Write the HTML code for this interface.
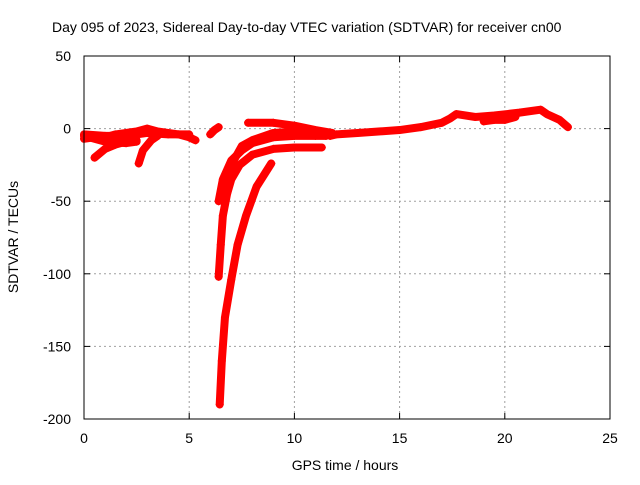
<!DOCTYPE html>
<html><head><meta charset="utf-8"><style>
body{margin:0;background:#fff;font-family:"Liberation Sans",sans-serif}
svg text{font-family:"Liberation Sans",sans-serif;font-size:14px;fill:#000}
</style></head><body>
<svg width="640" height="480">
<text x="52" y="32">Day 095 of 2023, Sidereal Day-to-day VTEC variation (SDTVAR) for receiver cn00</text>
<g id="grid"></g>
<g id="series"></g>
<rect x="84" y="56" width="526" height="363" fill="none" stroke="#000" stroke-width="1"/>
<g id="axes"></g>
<text x="345" y="470" text-anchor="middle">GPS time / hours</text>
<text transform="translate(18,237) rotate(-90)" text-anchor="middle">SDTVAR / TECUs</text>
</svg>
<script>
const xTicks=[0,5,10,15,20,25];
const yTicks=[50,0,-50,-100,-150,-200];
const seriesNames=['early-band','early-band-2','early-low','early-arc1','early-arc2','pre-dip','dip-deep','dip-mid','dip-a','dip-b','top-band','late-band','late-low'];
const seriesHours=[
[0,0.5,1,1.5,2,2.5,3,3.5,4,4.5,5,5.3],
[0,1,2,3,4,5],
[0,1,2,2.5],
[0.5,1,1.5,2,2.5],
[2.6,2.8,3.2,3.5],
[6.0,6.2,6.4],
[6.45,6.55,6.7,7.0,7.3,7.7,8.2,8.9],
[6.4,6.5,6.6,6.8,7.0,7.4,8,9,10,11.3],
[6.4,6.6,7,7.5,8,9,10,11,11.5],
[6.6,7,7.5,8,9,10,11,11.8],
[7.8,9,10,11,11.8],
[11.7,12,13,14,15,16,17,17.4,17.7,18.6,19.5,20.7,21.7,22,22.6,23],
[19,19.5,20,20.5]
];
const seriesValues=[
[-7,-6,-6,-4,-3,-2,0,-2,-3,-4,-6,-8],
[-4,-5,-5,-3,-4,-4],
[-5,-9,-10,-9],
[-20,-14,-11,-9,-8],
[-24,-15,-8,-5],
[-4,-1,1],
[-190,-160,-130,-104,-80,-60,-40,-24],
[-102,-80,-60,-45,-35,-25,-18,-14,-13,-13],
[-50,-35,-22,-15,-10,-6,-5,-5,-5],
[-40,-25,-12,-8,-3,-2,-3,-4],
[4,4,2,-1,-3],
[-5,-4,-3,-2,-1,1,4,7,10,8,9,11,13,10,6,1],
[5,6,6,8]
];
const X=h=>84+h*526/25;
const Y=v=>128.6-v*363/250;
const NS='http://www.w3.org/2000/svg';
const grid=document.getElementById('grid'),axes=document.getElementById('axes'),ser=document.getElementById('series');
function mk(tag,attrs,parent){const e=document.createElementNS(NS,tag);for(const k in attrs)e.setAttribute(k,attrs[k]);parent.appendChild(e);return e;}
xTicks.forEach(t=>{
 const x=X(t);
 if(t>0&&t<25){const g=mk('line',{x1:x,x2:x,y1:56,y2:419,stroke:'#a0a0a0','stroke-dasharray':'2,3'},grid);
 
 }
 mk('line',{x1:x,x2:x,y1:419,y2:413,stroke:'#000'},axes);
 mk('line',{x1:x,x2:x,y1:56,y2:62,stroke:'#000'},axes);
 const tx=mk('text',{x:x,y:443,'text-anchor':'middle'},axes);tx.textContent=t;
 
 
});
yTicks.forEach(t=>{
 const y=Y(t);
 if(t<50&&t>-200){const g=mk('line',{x1:84,x2:610,y1:y,y2:y,stroke:'#a0a0a0','stroke-dasharray':'2,3'},grid);
 
 }
 mk('line',{x1:84,x2:90,y1:y,y2:y,stroke:'#000'},axes);
 mk('line',{x1:610,x2:604,y1:y,y2:y,stroke:'#000'},axes);
 const tx=mk('text',{x:71,y:y+5,'text-anchor':'end'},axes);tx.textContent=t;
 
 
});
seriesHours.forEach((hs,i)=>{
 const vs=seriesValues[i];
 const pts=hs.map((h,j)=>X(h)+','+Y(vs[j])).join(' ');
 const pl=mk('polyline',{points:pts,fill:'none',stroke:'#f00','stroke-width':8,'stroke-linejoin':'round','stroke-linecap':'round'},ser);
 
 
 hs.forEach((h,j)=>{
  const x=X(h),y=Y(vs[j]);
  const p=mk('path',{d:`M${x-4},${y}H${x+4}M${x},${y-4}V${y+4}`,stroke:'#f00','stroke-width':1.2},ser);
  
  
 });
});
</script>
</body></html>
